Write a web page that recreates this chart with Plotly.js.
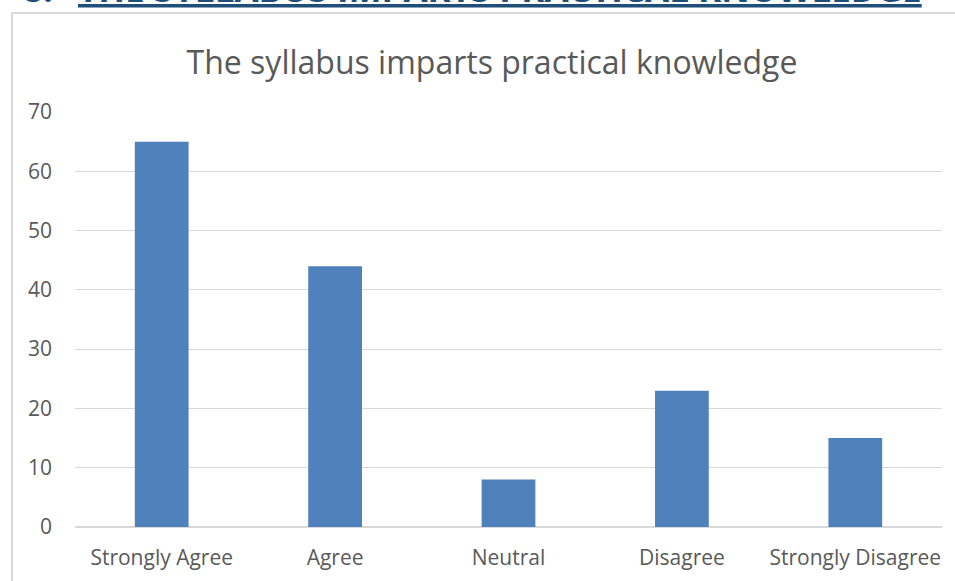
<!DOCTYPE html>
<html>
<head>
<meta charset="utf-8">
<script src="https://cdn.plot.ly/plotly-3.0.1.min.js"></script>
<style>html,body{margin:0;padding:0;background:#fff;}#chart{width:955px;height:581px;}</style>
</head>
<body>
<div id="chart"></div>
<script>
const categories = ["Strongly Agree", "Agree", "Neutral", "Disagree", "Strongly Disagree"];
const responses = [65, 44, 8, 23, 15];
const yTicks = [0, 10, 20, 30, 40, 50, 60, 70];
const chartTitle = "The syllabus imparts practical knowledge";
const heading = "THE SYLLABUS IMPARTS PRACTICAL KNOWLEDGE";
const headingNumber = "8.";

const W = 955, H = 581;
const L = 75, R = 13, T = 112, B = 54;
const pw = W - L - R, ph = H - T - B;
const px = v => (v - L) / pw;
const py = v => (H - B - v) / ph;
const FONT = "'Open Sans', Lato, sans-serif";

const trace = {
  type: "bar",
  x: categories,
  y: responses,
  marker: {color: "#4F81BD"},
  hoverinfo: "x+y"
};

const layout = {
  width: W, height: H,
  margin: {l: L, r: R, t: T, b: B, pad: 0},
  paper_bgcolor: "#ffffff",
  plot_bgcolor: "#ffffff",
  showlegend: false,
  bargap: 0.69,
  font: {family: FONT, color: "#595959"},
  title: {
    text: chartTitle,
    font: {size: 32, color: "#595959", family: FONT},
    xref: "container", yref: "container",
    x: 492 / W, xanchor: "center",
    y: 1 - 63 / H, yanchor: "middle"
  },
  xaxis: {
    type: "category",
    showgrid: false,
    showline: false,
    zeroline: false,
    ticks: "",
    ticklabelstandoff: 16,
    tickfont: {size: 21, color: "#595959"},
    automargin: false
  },
  yaxis: {
    range: [0, 70],
    tickvals: yTicks,
    ticktext: yTicks.map(String),
    showgrid: true,
    gridcolor: "#d9d9d9",
    gridwidth: 1,
    zeroline: true,
    zerolinecolor: "#d9d9d9",
    zerolinewidth: 1.5,
    showline: false,
    ticks: "",
    ticklabelstandoff: 22,
    tickfont: {size: 21, color: "#595959"},
    automargin: false
  },
  shapes: [
    {type: "rect", xref: "paper", yref: "paper",
     x0: px(12), x1: px(970), y0: py(600), y1: py(13),
     line: {color: "#d9d9d9", width: 2}, fillcolor: "rgba(0,0,0,0)", layer: "below"}
  ],
  annotations: [
    {text: "<b>" + heading + "</b>", xref: "paper", yref: "paper",
     x: px(76), xanchor: "left", y: py(14), yanchor: "bottom",
     showarrow: false,
     font: {size: 35, color: "#1F4E79", family: FONT, lineposition: "under"}},
    {text: "<b>" + headingNumber + "</b>", xref: "paper", yref: "paper",
     x: px(55), xanchor: "right", y: py(14), yanchor: "bottom",
     showarrow: false,
     font: {size: 35, color: "#1F4E79", family: FONT}}
  ]
};

Plotly.newPlot("chart", [trace], layout, {displayModeBar: false, staticPlot: true});
</script>
</body>
</html>
